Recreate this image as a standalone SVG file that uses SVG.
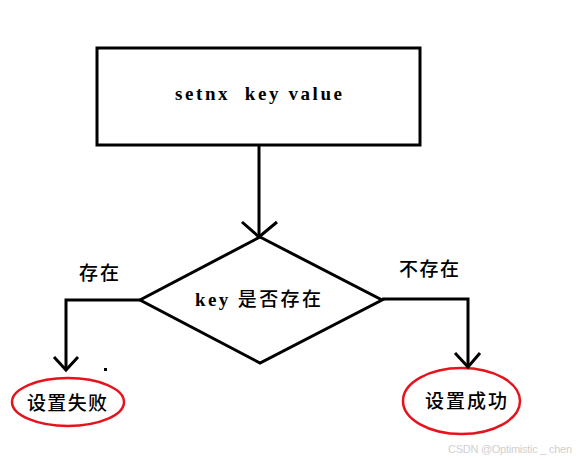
<svg xmlns="http://www.w3.org/2000/svg" width="576" height="460" viewBox="0 0 576 460">
<style>
.ln{fill:none;stroke:#000;stroke-width:3;stroke-linejoin:miter}
.ar{fill:none;stroke:#000;stroke-width:3}
.el{fill:none;stroke:#e5141c;stroke-width:2.5}
.t{font-family:"Liberation Serif","Noto Sans CJK SC",serif;font-size:19px;font-weight:500;fill:#000}
.lat{font-family:"Liberation Serif",serif;font-weight:bold;font-size:19px;fill:#000}
</style>
<rect width="576" height="460" fill="#fff"/>
<g id="box">
<rect x="97" y="48" width="323" height="97" class="ln"/>
<text class="lat" x="175" y="100" textLength="167" xml:space="preserve">setnx  key value</text>
</g>
<g id="decision">
<polygon points="260,237 382,300 260,363 140,300" class="ln"/>
<text class="t" x="195" y="306" textLength="126"><tspan font-family="Liberation Serif" font-weight="bold" font-size="19">key </tspan>是否存在</text>
</g>
<g id="fail">
<ellipse cx="68" cy="402" rx="56" ry="24" class="el"/>
<text class="t" x="27" y="410" textLength="80">设置失败</text>
</g>
<g id="success">
<ellipse cx="461.5" cy="401" rx="58.5" ry="33" class="el"/>
<text class="t" x="425" y="408" textLength="82">设置成功</text>
</g>
<g id="connectors">
<path d="M259,145 V237" class="ln"/>
<path d="M242,222 L259,237 L277,222" class="ar"/>
<path d="M140,300 H66 V370" class="ln"/>
<path d="M54,357 L66,370 L78,357" class="ar"/>
<path d="M382,299 H468 V367" class="ln"/>
<path d="M455,353 L468,367 L480,353" class="ar"/>
<text class="t" x="79" y="280" textLength="40">存在</text>
<text class="t" x="399" y="276" textLength="60">不存在</text>
</g>
<rect x="104" y="368" width="3" height="3" fill="#000"/>
<text x="448" y="453" font-family="Liberation Sans, sans-serif" font-size="11" fill="#d0d0d0" textLength="124">CSDN @Optimistic _ chen</text>
</svg>
